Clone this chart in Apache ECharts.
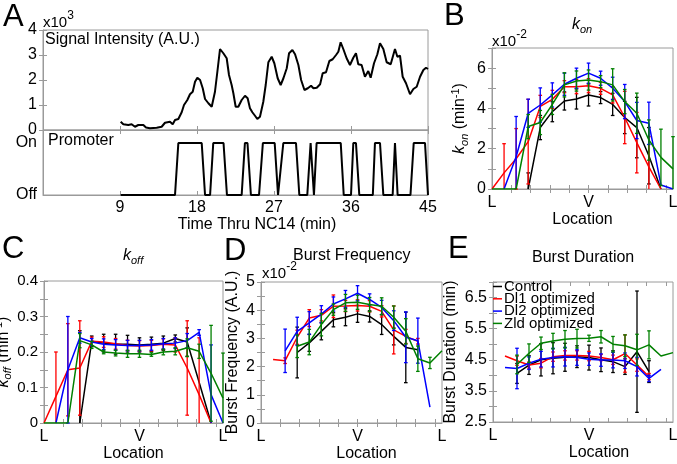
<!DOCTYPE html>
<html><head><meta charset="utf-8">
<script src="https://cdn.jsdelivr.net/npm/echarts@6/dist/echarts.min.js"></script>
<style>html,body{margin:0;padding:0;background:#fff}#c{width:677px;height:464px}</style>
</head><body><div id="c"></div>
<script>
// ---------- Panel A data ----------
const sigT = [9.08,9.39,9.97,10.36,10.75,11.14,11.73,12.04,12.5,13.29,13.87,14.26,14.84,15.16,15.43,15.82,16.21,16.48,16.87,17.18,17.5,17.77,18.04,18.36,18.67,18.94,19.33,19.72,20.1,20.38,20.69,21.08,21.47,21.74,22.05,22.25,22.52,22.83,23.22,23.61,23.92,24.19,24.47,24.78,25.05,25.36,25.75,26.03,26.34,26.73,27.04,27.43,27.78,28.1,28.49,28.76,29.15,29.46,29.85,30.17,30.56,30.95,31.33,31.61,32.0,32.39,32.69,33.08,33.47,33.86,34.25,34.52,34.79,35.1,35.49,35.88,36.27,36.58,36.85,37.24,37.63,38.02,38.3,38.69,39.08,39.39,39.78,40.17,40.64,40.87,41.14,41.42,41.73,42.04,42.43,42.9,43.29,43.68,44.07,44.46,44.77,45.0];
const sigV = [0.33,0.23,0.2,0.23,0.13,0.2,0.2,0.1,0.07,0.09,0.13,0.29,0.33,0.23,0.4,0.44,0.71,1.0,1.2,1.43,1.53,1.93,2.09,2.0,1.67,1.24,1.07,0.93,1.53,2.33,3.24,3.07,2.87,2.2,1.8,1.47,0.93,0.93,1.2,1.37,1.27,0.87,0.71,0.57,0.44,0.53,1.13,1.8,2.71,2.93,2.67,2.07,1.8,2.07,2.47,3.07,3.2,3.03,2.6,2.0,1.6,1.67,1.77,1.67,1.69,1.83,2.27,2.31,2.76,2.83,3.0,3.13,3.51,3.24,2.87,2.6,2.89,3.07,2.63,2.6,2.13,2.36,2.09,2.67,3.03,3.47,3.24,2.71,2.63,2.63,3.24,2.93,2.97,2.13,1.87,1.43,1.64,1.73,2.13,2.4,2.49,2.44];
const promT = [9.08,15.43,15.82,18.55,18.94,19.53,19.9,21.1,21.5,23.22,23.6,23.9,24.3,25.25,25.7,27.08,27.47,27.7,28.09,29.57,29.96,30.89,31.28,31.67,31.98,34.8,35.15,36.0,36.27,36.58,36.97,38.55,38.8,39.39,39.78,40.87,41.14,41.45,42.95,43.33,44.65,45.0];
const promState = [0,0,1,1,0,0,1,1,0,0,1,1,0,0,1,1,0,0,1,1,0,0,1,0,1,1,0,0,1,1,0,0,1,1,0,0,1,0,0,1,1,0];
const timeTicks = [9,18,27,36,45];

// ---------- Location panels ----------
const loc = [0,1,2,3,4,5,6,7,8,9,10,11,12,13,14,15];
const locLabelValues = [0,8,15];
const locLabelText = ['L','V','L'];
const locTicks = [1.6,3.2,4.8,6.4,8,9.6,11.2,12.8,14.4];
const seriesNames = ['Control','Dl1 optimized','Dl2 optimized','Zld optimized'];

// B: k_on (x10^-2 min^-1)
const konControl = [null,null,null,0,3.05,3.84,4.37,4.47,4.67,4.54,4.2,3.55,3.05,1.65,0,null];
const konControlErr = [null,null,null,0.8,0.6,0.5,0.45,0.5,0.55,0.3,0.55,0.8,1.5,1.4,null,null];
const konDl1 = [0,0.8,1.5,2.35,4.1,4.45,5.08,5.08,5.13,5.0,4.67,3.55,2.3,1.1,0,null];
const konDl1Err = [null,1.45,1.5,2.1,0.55,0.45,0.3,0.35,0.35,0.3,0.4,1.3,1.5,1.5,null,null];
const konDl2 = [null,0,1.6,3.76,4.17,4.67,5.2,5.5,5.75,5.5,5.0,4.34,3.4,3.26,0.2,0];
const konDl2Err = [null,null,2.0,0.7,0.85,0.6,0.55,0.5,0.5,0.35,0.55,0.85,0.9,1.05,null,null];
const konZld = [0,0,0,3.1,3.3,4.2,5.17,5.36,5.41,5.33,5.17,4.34,3.76,2.43,1.57,1.0];
const konZldErr = [null,null,null,0.6,0.6,0.5,0.6,0.5,0.5,0.3,0.8,0.6,1.0,1.0,1.4,1.6];

// C: k_off (min^-1)
const koffControl = [null,null,null,0,0.23,0.225,0.222,0.222,0.22,0.222,0.225,0.238,0.228,0.115,0,null];
const koffControlErr = [null,null,null,0.26,0.015,0.025,0.028,0.025,0.02,0.02,0.02,0.01,0.04,null,null,null];
const koffDl1 = [0,0.075,0.15,0.155,0.23,0.228,0.223,0.218,0.217,0.218,0.222,0.22,0.155,0.08,0,null];
const koffDl1Err = [null,0.125,0.13,0.133,0.012,0.015,0.015,0.015,0.015,0.015,0.015,0.02,0.133,0.16,null,null];
const koffDl2 = [null,0,0.15,0.24,0.228,0.222,0.22,0.218,0.218,0.22,0.223,0.225,0.232,0.255,0.08,0];
const koffDl2Err = [null,null,0.15,0.015,0.01,0.015,0.015,0.015,0.015,0.015,0.015,0.015,0.02,0.008,0.14,null];
const koffZld = [0,0,0,0.232,0.22,0.2,0.197,0.195,0.195,0.193,0.2,0.202,0.212,0.202,0.14,0.07];
const koffZldErr = [null,null,null,0.02,0.01,0.005,0.008,0.01,0.01,0.005,0.008,0.01,0.025,0.02,0.135,0.127];

// D: burst frequency (x10^-2 A.U.)
const bfControl = [null,null,null,2.5,2.84,3.25,3.66,3.75,3.87,3.78,3.49,3.07,2.68,2.6,null,null];
const bfControlErr = [null,null,null,0.9,0.3,0.3,0.25,0.3,0.3,0.2,0.35,0.3,1.25,null,null,null];
const bfDl1 = [null,2.25,2.21,3.04,3.72,3.82,4.14,4.15,4.17,4.14,3.96,3.3,3.07,2.9,null,null];
const bfDl1Err = [null,null,0.1,0.25,0.3,0.2,0.4,0.2,0.2,0.2,0.2,0.85,0.25,0.1,null,null];
const bfDl2 = [null,null,2.56,3.25,3.55,3.86,4.22,4.4,4.6,4.38,4.1,3.63,3.04,2.92,0.56,null];
const bfDl2Err = [null,null,0.77,0.5,0.4,0.3,0.25,0.3,0.27,0.2,0.25,0.35,0.9,0.8,null,null];
const bfZld = [null,null,null,2.72,2.87,3.49,4.02,4.26,4.28,4.2,4.14,3.75,3.25,2.28,2.13,2.56];
const bfZldErr = [null,null,null,0.4,0.45,0.4,0.2,0.3,0.25,0.25,0.3,0.4,0.45,0.45,0.2,null];

// E: burst duration (min)
const bdControl = [null,null,4.06,4.33,4.5,4.55,4.58,4.6,4.57,4.5,4.44,4.28,4.76,4.12,null,null];
const bdControlErr = [null,null,0.32,0.3,0.52,0.5,0.45,0.35,0.4,0.38,0.35,0.25,1.95,0.35,null,null];
const bdDl1 = [null,4.62,4.47,4.33,4.39,4.6,4.64,4.64,4.62,4.57,4.5,4.7,4.33,3.96,null,null];
const bdDl1Err = [null,null,0.15,0.1,0.15,0.15,0.15,0.15,0.15,0.1,0.15,0.6,0.2,0.1,null,null];
const bdDl2 = [null,4.25,4.22,4.39,4.52,4.57,4.6,4.57,4.52,4.49,4.49,4.47,4.28,3.9,4.19,null];
const bdDl2Err = [null,null,0.65,0.2,0.25,0.3,0.3,0.25,0.2,0.2,0.25,0.25,0.3,0.1,null,null];
const bdZld = [null,null,4.35,4.71,5.03,5.1,5.16,5.18,5.19,5.24,5.0,4.95,4.82,4.98,4.62,4.73];
const bdZldErr = [null,null,0.3,0.3,0.2,0.25,0.28,0.3,0.1,0.2,0.25,0.35,0.5,0.45,null,null];

// ---------- styling ----------
const FONT = '"Liberation Sans", Arial, Helvetica, sans-serif';
const AX = '#9a9a9a';
const COLORS = ['#000000','#ff0000','#0000ff','#008000'];

function merge(a,b){const r=Object.assign({},a);for(const k in b){const v=b[k];if(v&&typeof v==='object'&&!Array.isArray(v)&&a[k]&&typeof a[k]==='object'&&!Array.isArray(a[k]))r[k]=merge(a[k],v);else r[k]=v;}return r;}

const chart = echarts.init(document.getElementById('c'), null, {renderer:'canvas'});

const grids = [
  {left:43, top:30, width:385, height:100},
  {left:43, top:130, width:385, height:65},
  {left:492, top:48, width:181, height:141},
  {left:44, top:281, width:179, height:142},
  {left:261, top:282, width:181, height:141},
  {left:493, top:282, width:180, height:140}
].map(g => Object.assign(g, {show:true, borderColor:AX, borderWidth:1, containLabel:false, outerBoundsMode:'none'}));

const baseAxis = {
  type:'value',
  axisLine:{show:true, lineStyle:{color:AX, width:1}},
  axisTick:{show:true, inside:true, length:4, lineStyle:{color:AX}},
  splitLine:{show:false},
  axisLabel:{color:'#000', fontFamily:FONT, fontSize:16, margin:6},
  nameTextStyle:{color:'#000', fontFamily:FONT, fontSize:16}
};
function secAxis(o){ return merge(baseAxis, merge({axisLine:{show:false}, axisLabel:{show:false}}, o)); }

const subRich = {
  k:{fontStyle:'italic', fontFamily:FONT, fontSize:16, lineHeight:20, color:'#000'},
  s:{fontStyle:'italic', fontFamily:FONT, fontSize:11, lineHeight:11, verticalAlign:'bottom', color:'#000'},
  p:{fontFamily:FONT, fontSize:11, lineHeight:11, verticalAlign:'top', color:'#000'},
  t:{fontFamily:FONT, fontSize:16, lineHeight:20, color:'#000'}
};

const xAxes = [], yAxes = [];
// A top
xAxes.push(merge(baseAxis,{gridIndex:0, position:'bottom', min:0, max:45, interval:9, axisLabel:{show:false}}));
xAxes.push(secAxis({gridIndex:0, position:'top', min:0, max:45, interval:9}));
yAxes.push(merge(baseAxis,{gridIndex:0, position:'left', min:0, max:4, interval:1}));
yAxes.push(secAxis({gridIndex:0, position:'right', min:0, max:4, interval:1}));
// A bottom
xAxes.push(merge(baseAxis,{gridIndex:1, position:'bottom', min:0, max:45, interval:9,
  axisLabel:{margin:5, formatter:v => timeTicks.indexOf(v) >= 0 ? String(v) : ''},
  name:'Time Thru NC14 (min)', nameLocation:'middle', nameGap:20, nameTextStyle:{padding:[0,0,0,43]}}));
xAxes.push(secAxis({gridIndex:1, position:'top', min:0, max:45, interval:9, axisTick:{show:false}}));
yAxes.push(merge(baseAxis,{gridIndex:1, position:'left', min:0, max:1.25, interval:0.25, axisTick:{show:false},
  axisLabel:{formatter:v => v === 1 ? 'On' : (v === 0 ? 'Off' : '')}}));
yAxes.push(secAxis({gridIndex:1, position:'right', min:0, max:1.25, interval:0.25, axisTick:{show:false}}));

const panels = [
  {g:2, vals:[konControl,konDl1,konDl2,konZld], errs:[konControlErr,konDl1Err,konDl2Err,konZldErr],
   y:{min:0, max:7, interval:1, fmt:v => (Math.round(v) % 2 === 0 ? String(Math.round(v)) : '')},
   yname:'{k|k}{s|on}{t| (min}{p|-1}{t|)}', ynameGap:22, xnameGap:16, xpad:0, lfs:16},
  {g:3, vals:[koffControl,koffDl1,koffDl2,koffZld], errs:[koffControlErr,koffDl1Err,koffDl2Err,koffZldErr],
   y:{min:0, max:0.4, interval:0.05, fmt:v => {const r=Math.round(v*100); return r % 10 === 0 ? String(r/100) : '';}},
   yname:'{k|k}{s|off}{t| (min}{p|-1}{t|)}', ynameGap:25, xnameGap:20, xpad:0, lfs:15},
  {g:4, vals:[bfControl,bfDl1,bfDl2,bfZld], errs:[bfControlErr,bfDl1Err,bfDl2Err,bfZldErr],
   y:{min:0, max:5, interval:0.5, fmt:v => {const r=Math.round(v*2); return r % 2 === 0 ? String(r/2) : '';}},
   yname:'Burst Frequency (A.U.)', ynameGap:18, xnameGap:20, xpad:30, lfs:16},
  {g:5, vals:[bdControl,bdDl1,bdDl2,bdZld], errs:[bdControlErr,bdDl1Err,bdDl2Err,bdZldErr],
   y:{min:2.5, max:7, interval:0.5, fmt:v => {const r=Math.round(v*2); return r % 2 === 1 ? String(r/2) : '';}},
   yname:'Burst Duration (min)', ynameGap:31, xnameGap:20, xpad:32, lfs:16}
];

panels.forEach(p => {
  xAxes.push(merge(baseAxis,{gridIndex:p.g, position:'bottom', min:0, max:15,
    axisTick:{customValues:locTicks},
    axisLabel:{customValues:locLabelValues, margin:6, fontSize:16, formatter:v => locLabelText[locLabelValues.indexOf(v)] || ''},
    name:'Location', nameLocation:'middle', nameGap:p.xnameGap, nameTextStyle:{padding:[0,0,0,p.xpad]}}));
  xAxes.push(secAxis({gridIndex:p.g, position:'top', min:0, max:15, axisTick:{customValues:locTicks}}));
  const yn = {gridIndex:p.g, position:'left', min:p.y.min, max:p.y.max, interval:p.y.interval,
    axisLabel:{formatter:p.y.fmt, fontSize:p.lfs},
    name:p.yname, nameLocation:'middle', nameGap:p.ynameGap, nameRotate:90,
    nameTextStyle:{lineHeight:20, rich:subRich}};
  yAxes.push(merge(baseAxis, yn));
  yAxes.push(secAxis({gridIndex:p.g, position:'right', min:p.y.min, max:p.y.max, interval:p.y.interval}));
});

function errRender(params, api){
  const x = api.value(0), lo = api.value(1), hi = api.value(2), loC = api.value(3), hiC = api.value(4);
  const a = api.coord([x, lo]), b = api.coord([x, hi]);
  const w = 1.8, st = {stroke: api.visual('color'), lineWidth:1.3};
  const ch = [{type:'line', shape:{x1:a[0], y1:a[1], x2:b[0], y2:b[1]}, style:st}];
  if (!loC) ch.push({type:'line', shape:{x1:a[0]-w, y1:a[1], x2:a[0]+w, y2:a[1]}, style:st});
  if (!hiC) ch.push({type:'line', shape:{x1:b[0]-w, y1:b[1], x2:b[0]+w, y2:b[1]}, style:st});
  return {type:'group', children:ch};
}

const series = [];
series.push({type:'line', xAxisIndex:0, yAxisIndex:0, data:sigT.map((t,i)=>[t, sigV[i]]), showSymbol:false, symbol:'none',
  lineStyle:{color:'#000', width:2}, itemStyle:{color:'#000'}, silent:true});
series.push({type:'line', xAxisIndex:2, yAxisIndex:2, data:promT.map((t,i)=>[t, promState[i]]), showSymbol:false, symbol:'none',
  lineStyle:{color:'#000', width:2}, itemStyle:{color:'#000'}, silent:true});

panels.forEach(p => {
  for (let s = 0; s < 4; s++) {
    const vals = p.vals[s], errs = p.errs[s];
    series.push({type:'line', name:seriesNames[s], xAxisIndex:p.g*2, yAxisIndex:p.g*2,
      data:loc.map((x,i)=>[x, vals[i]]), showSymbol:false, symbol:'none', connectNulls:false,
      lineStyle:{color:COLORS[s], width:1.5}, itemStyle:{color:COLORS[s]}, silent:true, z:2+s});
    const ed = [];
    loc.forEach((x,i) => {
      if (vals[i] == null || errs[i] == null) return;
      let lo = vals[i] - errs[i], hi = vals[i] + errs[i], loC = 0, hiC = 0;
      if (lo < p.y.min) { lo = p.y.min; loC = 1; }
      if (hi > p.y.max) { hi = p.y.max; hiC = 1; }
      ed.push([x, lo, hi, loC, hiC]);
    });
    series.push({type:'custom', name:seriesNames[s]+' error', xAxisIndex:p.g*2, yAxisIndex:p.g*2,
      renderItem:errRender, data:ed, encode:{x:0, y:[1,2]}, itemStyle:{color:COLORS[s]}, silent:true, z:2+s});
  }
});

function T(text, left, top, fs, extra){
  return merge({text, left, top, padding:0, textStyle:{fontFamily:FONT, fontSize:fs, fontWeight:'normal', color:'#000'}}, extra || {});
}
const expRich = {b:{fontFamily:FONT, fontSize:15, lineHeight:20, verticalAlign:'bottom', color:'#000'},
                 p:{fontFamily:FONT, fontSize:12, lineHeight:12, verticalAlign:'top', color:'#000'}};
const titles = [
  T('A', 3, 2, 31), T('B', 444, 1, 31), T('C', 2, 234, 31), T('D', 224, 236, 31), T('E', 448, 234, 31),
  T('{k|k}{s|on}', 572, 15, 16, {textStyle:{rich:subRich}}),
  T('{k|k}{s|off}', 123, 246, 16, {textStyle:{rich:subRich}}),
  T('Burst Frequency', 293, 248, 16),
  T('Burst Duration', 532, 250, 16),
  T('Signal Intensity (A.U.)', 45, 32, 16),
  T('Promoter', 48, 133, 16),
  T('{b|x10}{p|3}', 43, 10, 15, {textStyle:{rich:expRich}}),
  T('{b|x10}{p|-2}', 492, 29, 15, {textStyle:{rich:expRich}}),
  T('{b|x10}{p|-2}', 262, 261, 15, {textStyle:{rich:expRich}})
];

chart.setOption({
  animation:false,
  backgroundColor:'#fff',
  title:titles,
  grid:grids,
  xAxis:xAxes,
  yAxis:yAxes,
  legend:{data:seriesNames, orient:'vertical', left:493, top:279, padding:0, itemGap:-2.7, icon:'rect',
    itemWidth:9, itemHeight:1.5, selectedMode:false,
    textStyle:{fontFamily:FONT, fontSize:15, lineHeight:12.3, color:'#000', padding:[0,0,0,-3]}},
  series:series
});
</script></body></html>
